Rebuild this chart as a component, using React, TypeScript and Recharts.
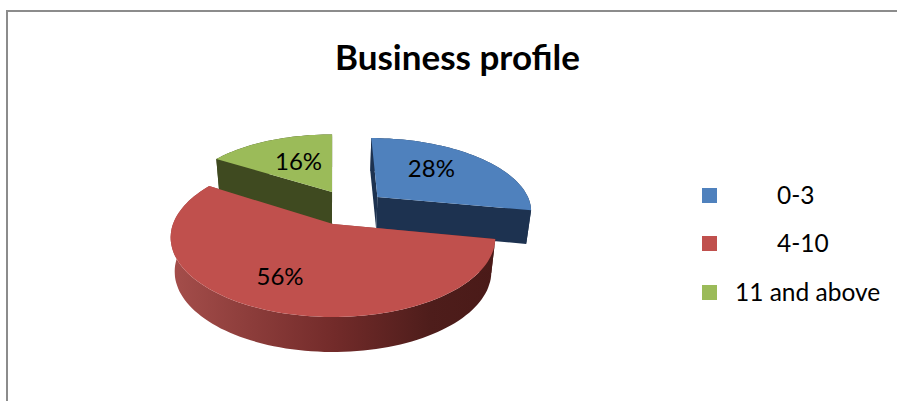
import React from 'react';
import { PieChart, Pie, Legend } from 'recharts';

const categories = ['0-3', '4-10', '11 and above'];
const shares = [28, 56, 16];

const TOP_FILLS = ['#4f81bd', '#c0504d', '#9bbb59'];
const WALL_FILLS = ['#1d3250', 'url(#redWall)', '#3f4a20'];
const FONT = 'Lato, "Open Sans", sans-serif';

// pulled-out slices, in units of the pie radius on the ground plane
const EXPLODE = [[0.295, -0.372], [0, 0], [-0.007, -0.446]];
const LABEL_NUDGE = [[1, -9], [-21, 13], [0, -4]];
const LEGEND_TEXT_X = [777, 777, 735];
const LEGEND_Y = [188, 236, 285];

// fake 3D: the flat pie is tilted with a small perspective
const RADIUS = 160;
const SQUASH = 77.2;
const TILT = 0.17;
const DEPTH = 34;
const LOWER_SCALE = 0.975;

const table = categories.map((name, i) => ({ name, value: shares[i], fill: TOP_FILLS[i] }));

const project = (cx: number, cy: number, gx: number, gy: number, lower = false) => {
  const den = 1 - TILT * gy;
  const s = lower ? LOWER_SCALE : 1;
  return {
    x: cx + (RADIUS * gx * s) / den,
    y: cy + (SQUASH * gy * s) / den + (lower ? DEPTH / Math.sqrt(den) : 0),
  };
};

const rimPoint = (cx: number, cy: number, deg: number, slice: number, r = 1, lower = false) => {
  const a = (deg * Math.PI) / 180;
  const [ex, ey] = EXPLODE[slice];
  return project(cx, cy, r * Math.cos(a) + ex, -r * Math.sin(a) + ey, lower);
};

const toPath = (pts: { x: number; y: number }[]) =>
  pts.map((p, i) => `${i ? 'L' : 'M'}${p.x.toFixed(1)},${p.y.toFixed(1)}`).join(' ') + ' Z';

const rim = (cx: number, cy: number, from: number, to: number, slice: number, lower = false) => {
  const steps = Math.ceil(Math.abs(to - from) / 2);
  return Array.from({ length: steps + 1 }, (_, i) =>
    rimPoint(cx, cy, from + ((to - from) * i) / steps, slice, 1, lower),
  );
};

const WallShape = (props: any) => {
  const { cx, cy, startAngle, endAngle, name } = props;
  const slice = categories.indexOf(name);
  const fill = WALL_FILLS[slice];
  const apex = rimPoint(cx, cy, 0, slice, 0);
  const apexLow = rimPoint(cx, cy, 0, slice, 0, true);
  const cut = (deg: number) =>
    toPath([apex, rimPoint(cx, cy, deg, slice), rimPoint(cx, cy, deg, slice, 1, true), apexLow]);
  const outer = [...rim(cx, cy, startAngle, endAngle, slice), ...rim(cx, cy, endAngle, startAngle, slice, true)];
  return (
    <g>
      <path d={toPath(outer)} fill={fill} />
      <path d={cut(startAngle)} fill={fill} />
      <path d={cut(endAngle)} fill={fill} />
    </g>
  );
};

const TopShape = (props: any) => {
  const { cx, cy, startAngle, endAngle, name, fill } = props;
  const slice = categories.indexOf(name);
  return <path d={toPath([rimPoint(cx, cy, 0, slice, 0), ...rim(cx, cy, startAngle, endAngle, slice)])} fill={fill} />;
};

const renderLabel = (props: any) => {
  const { cx, cy, midAngle, name, value } = props;
  const slice = categories.indexOf(name);
  const p = rimPoint(cx, cy, midAngle, slice, 0.5);
  return (
    <text
      key={name}
      x={p.x + LABEL_NUDGE[slice][0]}
      y={p.y + LABEL_NUDGE[slice][1]}
      textAnchor="middle"
      dominantBaseline="central"
      fontFamily={FONT}
      fontSize={24}
      fill="#000"
    >
      {value}%
    </text>
  );
};

const renderLegend = () => (
  <div>
    {categories.map((name, i) => (
      <div key={name}>
        <div
          style={{ position: 'absolute', left: 702, top: LEGEND_Y[i], width: 15, height: 15, background: TOP_FILLS[i] }}
        />
        <div
          style={{
            position: 'absolute',
            left: LEGEND_TEXT_X[i],
            top: LEGEND_Y[i] - 8.5,
            lineHeight: '29px',
            fontFamily: FONT,
            fontSize: 24.5,
            color: '#000',
            whiteSpace: 'nowrap',
          }}
        >
          {name}
        </div>
      </div>
    ))}
  </div>
);

export default function App() {
  return (
    <div style={{ position: 'absolute', left: 0, top: 0, width: 897, height: 401, overflow: 'hidden', background: '#fff' }}>
      <div
        style={{
          position: 'absolute',
          left: 6,
          top: 10,
          width: 897,
          height: 401,
          borderLeft: '2px solid #8c8c8c',
          borderTop: '2px solid #8c8c8c',
        }}
      />
      <div style={{ position: 'absolute', left: 0, top: 0 }}>
        <PieChart width={897} height={401} margin={{ top: 0, right: 0, bottom: 0, left: 0 }}>
          <defs>
            <linearGradient id="redWall" x1="0" y1="0" x2="1" y2="0">
              <stop offset="0" stopColor="#a54e4b" />
              <stop offset="0.5" stopColor="#732b2a" />
              <stop offset="0.8" stopColor="#4e1d1b" />
              <stop offset="1" stopColor="#4a1a18" />
            </linearGradient>
          </defs>
          <text x={457.5} y={56} textAnchor="middle" dominantBaseline="central" fontFamily={FONT} fontSize={35} fontWeight={700} fill="#000">
            Business profile
          </text>
          <Pie
            data={table}
            dataKey="value"
            nameKey="name"
            cx={333}
            cy={224}
            outerRadius={RADIUS}
            startAngle={90}
            endAngle={-270}
            stroke="none"
            legendType="none"
            shape={WallShape}
            isAnimationActive={false}
          />
          <Pie
            data={table}
            dataKey="value"
            nameKey="name"
            cx={333}
            cy={224}
            outerRadius={RADIUS}
            startAngle={90}
            endAngle={-270}
            stroke="none"
            shape={TopShape}
            label={renderLabel}
            labelLine={false}
            isAnimationActive={false}
          />
          <Legend content={renderLegend} wrapperStyle={{ left: 0, top: 0, width: 0, height: 0 }} />
        </PieChart>
      </div>
    </div>
  );
}
